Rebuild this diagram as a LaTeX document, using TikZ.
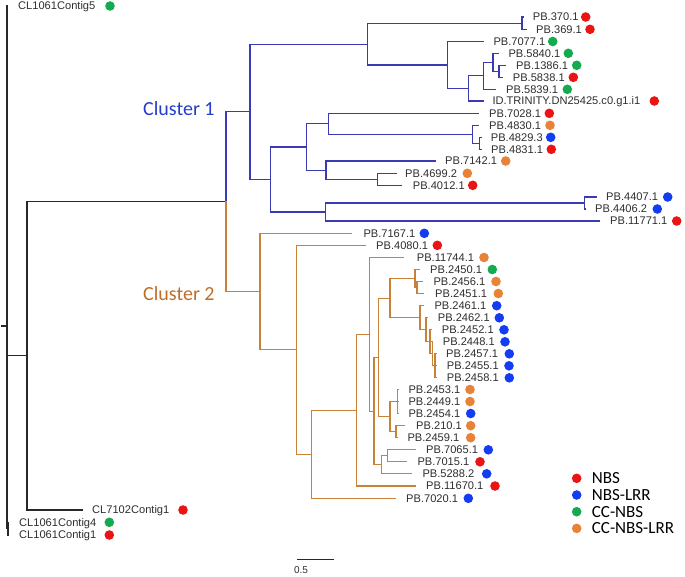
\documentclass[tikz,border=0pt]{standalone}
\usepackage{fontspec}
\setmainfont{Liberation Sans}
\newfontfamily\clfont{Carlito}
\definecolor{lineA}{RGB}{58,58,178}
\definecolor{lineB}{RGB}{200,130,55}
\definecolor{lineK}{RGB}{40,40,40}
\definecolor{txtK}{RGB}{45,45,45}
\definecolor{dR}{RGB}{235,20,20}
\definecolor{dB}{RGB}{20,60,240}
\definecolor{dG}{RGB}{20,170,80}
\definecolor{dO}{RGB}{232,130,55}
\definecolor{clA}{RGB}{35,60,205}
\definecolor{clB}{RGB}{190,110,40}
\tikzset{
  br/.style={line width=1.1pt, line cap=rect},
  brK/.style={br, draw=lineK},
  brA/.style={br, draw=lineA},
  brB/.style={br, draw=lineB},
  lbl/.style={anchor=west, inner sep=0pt, text=txtK, text height=7.8pt, text depth=0pt,
     font=\fontsize{11.1}{12}\selectfont},
  dot/.style={circle, inner sep=0pt, minimum size=9.6pt, draw=none},
  legtxt/.style={anchor=west, inner sep=0pt, text=black, font=\clfont\fontsize{17}{18}\selectfont},
  cltxt/.style={anchor=west, inner sep=0pt, font=\clfont\fontsize{20}{22}\selectfont}
}
\newcommand\mkleaf[7]{%
  \coordinate (#1) at (#2,#3);
  \node[lbl] (#1-l) at (#4,#3) {#7};
  \node[dot, fill=#6] (#1-d) at (#5,#3) {};
}
\begin{document}
\begin{tikzpicture}[x=1pt, y=-1pt]
\useasboundingbox (0,0) rectangle (685,576);
% ---------------- leaves
\mkleaf{c5}{7}{6}{18}{110}{dG}{CL1061Contig5}
\mkleaf{p370}{523}{17}{532.7}{585.7}{dR}{PB.370.1}
\mkleaf{p369}{526}{29.3}{536}{590}{dR}{PB.369.1}
\mkleaf{p7077}{483}{41.5}{493.3}{552.7}{dG}{PB.7077.1}
\mkleaf{p5840}{498}{53.3}{508.3}{568.3}{dG}{PB.5840.1}
\mkleaf{p1386}{505}{65.3}{516}{576.7}{dG}{PB.1386.1}
\mkleaf{p5838}{502}{77.3}{512.7}{573.3}{dR}{PB.5838.1}
\mkleaf{p5839}{495}{89.3}{506}{567.3}{dG}{PB.5839.1}
\mkleaf{ptrin}{483}{101}{492.3}{654.3}{dR}{ID.TRINITY.DN25425.c0.g1.i1}
\mkleaf{p7028}{478.3}{113.3}{489}{549.3}{dR}{PB.7028.1}
\mkleaf{p4830}{478.5}{125.3}{489}{550}{dO}{PB.4830.1}
\mkleaf{p4829}{481}{137.3}{490.7}{550.7}{dB}{PB.4829.3}
\mkleaf{p4831}{481}{149.3}{491}{551.3}{dR}{PB.4831.1}
\mkleaf{p7142}{435}{161}{445}{505.7}{dO}{PB.7142.1}
\mkleaf{p4699}{396}{173.3}{405}{467.3}{dO}{PB.4699.2}
\mkleaf{p4012}{401.7}{185.3}{412.7}{472.7}{dR}{PB.4012.1}
\mkleaf{p4407}{596}{197}{606}{667.7}{dB}{PB.4407.1}
\mkleaf{p4406}{585}{209}{595}{657.3}{dB}{PB.4406.2}
\mkleaf{p11771}{599.3}{221}{610}{676.7}{dR}{PB.11771.1}
\mkleaf{p7167}{351.7}{233.3}{363.3}{424.3}{dB}{PB.7167.1}
\mkleaf{p4080}{365}{245.3}{376}{437.3}{dR}{PB.4080.1}
\mkleaf{p11744}{403.3}{257.5}{416.7}{484}{dO}{PB.11744.1}
\mkleaf{p2450}{419}{269.5}{430}{492.3}{dG}{PB.2450.1}
\mkleaf{p2456}{422}{281.5}{433.3}{496}{dO}{PB.2456.1}
\mkleaf{p2451}{423}{293.5}{435}{498.3}{dO}{PB.2451.1}
\mkleaf{p2461}{423}{305.7}{434.3}{496.7}{dB}{PB.2461.1}
\mkleaf{p2462}{427}{317.8}{437.7}{499.3}{dB}{PB.2462.1}
\mkleaf{p2452}{431}{329.8}{441.7}{504}{dB}{PB.2452.1}
\mkleaf{p2448}{432}{341.8}{442.7}{505}{dB}{PB.2448.1}
\mkleaf{p2457}{436}{353.8}{446}{509.3}{dB}{PB.2457.1}
\mkleaf{p2455}{436}{365.8}{446.7}{509}{dB}{PB.2455.1}
\mkleaf{p2458}{436}{377.8}{446.7}{509.3}{dB}{PB.2458.1}
\mkleaf{p2453}{398}{389.5}{408.3}{470}{dO}{PB.2453.1}
\mkleaf{p2449}{398}{401.5}{408.3}{470}{dO}{PB.2449.1}
\mkleaf{p2454}{398}{413.5}{408.3}{470.7}{dB}{PB.2454.1}
\mkleaf{p210}{404}{425.7}{416}{470.7}{dO}{PB.210.1}
\mkleaf{p2459}{397}{437.7}{407.3}{470.7}{dO}{PB.2459.1}
\mkleaf{p7065}{415}{449.8}{426}{488.3}{dB}{PB.7065.1}
\mkleaf{p7015}{406.7}{461.8}{417.3}{480}{dR}{PB.7015.1}
\mkleaf{p5288}{411.7}{473.8}{422.3}{486.7}{dB}{PB.5288.2}
\mkleaf{p11670}{415}{486}{426}{495}{dR}{PB.11670.1}
\mkleaf{p7020}{395}{498.3}{406}{468.3}{dB}{PB.7020.1}
\mkleaf{c7102}{82}{510}{92}{183}{dR}{CL7102Contig1}
\mkleaf{c4}{8}{522.3}{19}{109.3}{dG}{CL1061Contig4}
\mkleaf{c1}{8}{535}{19}{109.3}{dR}{CL1061Contig1}
% ---------------- internal nodes
\coordinate (D) at (522,23.15);
\coordinate (H) at (499,71.3);
\coordinate (G) at (493,62.3);
\coordinate (F) at (483.3,75.8);
\coordinate (Q) at (468.3,88.4);
\coordinate (P) at (447.3,65);
\coordinate (C) at (367.7,44.1);
\coordinate (M) at (479.3,143.3);
\coordinate (L) at (472.7,134.3);
\coordinate (K) at (328.3,123.8);
\coordinate (O) at (377.3,179.3);
\coordinate (N) at (326,170.2);
\coordinate (J) at (306.7,147);
\coordinate (S) at (584.3,203);
\coordinate (R) at (325.7,212);
\coordinate (I) at (270.7,179.5);
\coordinate (B) at (250,111.8);
\coordinate (Z2b) at (417,287.5);
\coordinate (Z2) at (415,278.5);
\coordinate (Z7) at (435,365.8);
\coordinate (Z6) at (432.5,353.8);
\coordinate (Z5) at (430,341.8);
\coordinate (Z4) at (426,329.8);
\coordinate (Z3) at (420,317.75);
\coordinate (Z1) at (390,298.1);
\coordinate (DD) at (397.3,401.5);
\coordinate (EE) at (396,431.7);
\coordinate (AA) at (390,416.6);
\coordinate (Y2) at (378.3,357.4);
\coordinate (CC) at (387.3,455.8);
\coordinate (BB) at (381.7,464.8);
\coordinate (Y) at (374,411.1);
\coordinate (X) at (369.3,334.3);
\coordinate (W) at (356.7,410.2);
\coordinate (V) at (311.7,454.2);
\coordinate (U) at (296.7,349.8);
\coordinate (T) at (260,291.5);
\coordinate (A) at (226,201.7);
\coordinate (N1) at (27,355.9);
\coordinate (N2) at (8,528.7);
\coordinate (root) at (7,326);
\coordinate (tick) at (2,326);
% ---------------- branches
\draw[brK] (tick) -- (root);
\foreach \p/\c in {root/c5, root/N1, root/N2, N2/c4, N2/c1, N1/A, N1/c7102}
  \draw[brK] (\p) |- (\c);
\foreach \p/\c in {A/B, B/C, B/I, C/D, C/P, D/p370, D/p369, P/p7077, P/Q, Q/F, Q/ptrin,
  F/G, F/p5839, G/p5840, G/H, H/p1386, H/p5838, I/J, I/R, J/K, J/N, K/p7028, K/L,
  L/p4830, L/M, M/p4829, M/p4831, N/p7142, N/O, O/p4699, O/p4012, R/S, R/p11771,
  S/p4407, S/p4406}
  \draw[brA] (\p) |- (\c);
\foreach \p/\c in {A/T, T/p7167, T/U, U/p4080, U/V, V/W, V/p7020, W/X, W/p11670,
  X/p11744, X/Y, Y/Y2, Y/BB, Y2/Z1, Y2/AA, Z1/Z2, Z1/Z3, Z2/p2450, Z2/Z2b,
  Z2b/p2456, Z2b/p2451, Z3/p2461, Z3/Z4, Z4/p2462, Z4/Z5, Z5/p2452, Z5/Z6,
  Z6/p2448, Z6/Z7, Z7/p2457, Z7/p2455, Z7/p2458, AA/DD, AA/EE, DD/p2453, DD/p2449,
  DD/p2454, EE/p210, EE/p2459, BB/CC, BB/p5288, CC/p7065, CC/p7015}
  \draw[brB] (\p) |- (\c);
% ---------------- cluster labels
\node[cltxt, text=clA] (cl1) at (143,109) {Cluster 1};
\node[cltxt, text=clB] (cl2) at (143,293.3) {Cluster 2};
% ---------------- legend
\node[dot, fill=dR] (lg1d) at (576.7,478.3) {};
\node[dot, fill=dB] (lg2d) at (576.7,495) {};
\node[dot, fill=dG] (lg3d) at (576.7,511.7) {};
\node[dot, fill=dO] (lg4d) at (576.7,528.4) {};
\node[legtxt] (lg1) at (591.7,478.3) {NBS};
\node[legtxt] (lg2) at (591.7,495) {NBS-LRR};
\node[legtxt] (lg3) at (591.7,511.7) {CC-NBS};
\node[legtxt] (lg4) at (591.7,528.4) {CC-NBS-LRR};
% ---------------- scale bar
\coordinate (sb1) at (297,559.3);
\coordinate (sb2) at (334,559.3);
\draw[brK, line cap=butt] (sb1) -- (sb2);
\node[lbl, anchor=center, font=\fontsize{10}{11}\selectfont] (sbl) at (301,569.5) {0.5};
\end{tikzpicture}
\end{document}
